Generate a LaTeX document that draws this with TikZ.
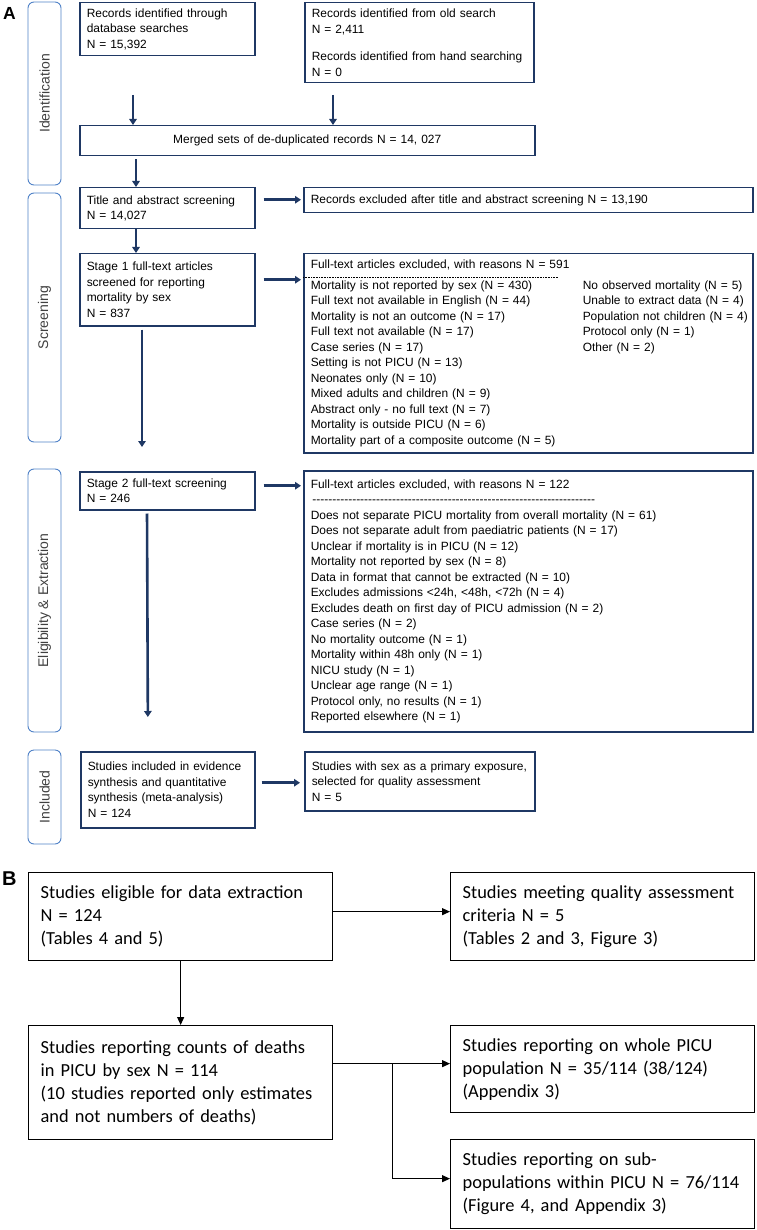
\documentclass[tikz,border=0pt]{standalone}
\usepackage{fontspec}
\setmainfont{Liberation Sans}
\newfontfamily\calibri{Carlito}
\usetikzlibrary{arrows.meta,positioning}
\definecolor{navy}{RGB}{31,56,100}
\definecolor{stageblue}{RGB}{79,129,199}
\definecolor{stagetext}{RGB}{64,64,64}
\tikzset{
  flow box/.style={
    draw=navy, line width=1.5pt, rectangle,
    anchor=north west, align=left,
    inner xsep=7pt, inner ysep=0pt,
    font=\fontsize{11.95}{15.5}\selectfont,
  },
  stage label/.style={
    draw=stageblue, line width=0.9pt, rounded corners=6pt,
    rotate=90, minimum height=33pt, inner sep=0pt,
    text=stagetext, font=\fontsize{14}{16}\selectfont,
  },
  fat arrow/.style={navy, line width=2.6pt, -{Triangle[width=7.5pt,length=6pt]}},
  b box/.style={
    draw, line width=1.3pt, rectangle,
    anchor=north west, align=left,
    inner xsep=12pt, inner ysep=0pt,
    font=\calibri\fontsize{18.4}{23}\selectfont,
  },
  thin arrow/.style={line width=1.1pt, -{Triangle[width=7pt,length=8pt]}},
  panel tag/.style={inner sep=0pt, anchor=north west},
}

\begin{document}
\begin{tikzpicture}[x=1pt,y=-1pt]
  \useasboundingbox (0,0) rectangle (756,1230);

  % panel A
  \node [panel tag, font=\bfseries\fontsize{17.5}{17.5}\selectfont] (tagA) at (3,7) {A};

  \node [stage label, minimum width=183pt] (ident) at (44.5,93.5) {Identification};
  \node [stage label, minimum width=249pt] (screen) at (44.5,317.5) {Screening};
  \node [stage label, minimum width=263pt] (elig) at (44.5,600.5) {Eligibility \& Extraction};
  \node [stage label, minimum width=94pt] (inclab) at (44.5,797) {Included};

  \node [flow box, minimum width=175pt, minimum height=53pt, text width=161pt] (recdb) at (79,2)
    {Records identified through\\database searches\\N = 15,392};
  \node [flow box, minimum width=229pt, minimum height=80pt, text width=215pt] (recold) at (304,2)
    {Records identified from old search\\N = 2,411\\[12pt]Records identified from hand searching\\N = 0};
  \node [flow box, minimum width=455pt, minimum height=30pt, text width=441pt, align=center] (merged) at (79,125)
    {Merged sets of de-duplicated records N = 14, 027};
  \node [flow box, minimum width=175pt, minimum height=41pt, text width=161pt] (title) at (79,187)
    {Title and abstract screening\\N = 14,027};
  \node [flow box, minimum width=449pt, minimum height=25pt, text width=435pt] (excltitle) at (303,187)
    {Records excluded after title and abstract screening N = 13,190};
  \node [flow box, minimum width=175pt, minimum height=72pt, text width=161pt] (stage1) at (79,253)
    {Stage 1 full-text articles\\screened for reporting\\mortality by sex\\N = 837};
  \node [flow box, minimum width=449pt, minimum height=199pt, text width=435pt] (ftx591) at (303,253)
    {\begin{tabular}{@{}p{272pt}@{}l@{}}
      \multicolumn{2}{@{}l@{}}{Full-text articles excluded, with reasons N = 591}\\[5pt]
      Mortality is not reported by sex (N = 430) & No observed mortality (N = 5)\\
      Full text not available in English (N = 44) & Unable to extract data (N = 4)\\
      Mortality is not an outcome (N = 17) & Population not children (N = 4)\\
      Full text not available (N = 17) & Protocol only (N = 1)\\
      Case series (N = 17) & Other (N = 2)\\
      Setting is not PICU (N = 13) & \\
      Neonates only (N = 10) & \\
      Mixed adults and children (N = 9) & \\
      Abstract only - no full text (N = 7) & \\
      Mortality is outside PICU (N = 6) & \\
      Mortality part of a composite outcome (N = 5) &
    \end{tabular}};
  \node [flow box, minimum width=175pt, minimum height=38pt, text width=161pt] (stage2) at (79,471)
    {Stage 2 full-text screening\\N = 246};
  \node [flow box, minimum width=449pt, minimum height=261pt, text width=435pt] (ftx122) at (303,470)
    {Full-text articles excluded, with reasons N = 122\\
     \makebox[286pt][l]{\cleaders\hbox{-}\hfill}\\
     Does not separate PICU mortality from overall mortality (N = 61)\\
     Does not separate adult from paediatric patients (N = 17)\\
     Unclear if mortality is in PICU (N = 12)\\
     Mortality not reported by sex (N = 8)\\
     Data in format that cannot be extracted (N = 10)\\
     Excludes admissions <24h, <48h, <72h (N = 4)\\
     Excludes death on first day of PICU admission (N = 2)\\
     Case series (N = 2)\\
     No mortality outcome (N = 1)\\
     Mortality within 48h only (N = 1)\\
     NICU study (N = 1)\\
     Unclear age range (N = 1)\\
     Protocol only, no results (N = 1)\\
     Reported elsewhere (N = 1)};
  \node [flow box, minimum width=174pt, minimum height=76pt, text width=160pt] (incl) at (80,751)
    {Studies included in evidence\\synthesis and quantitative\\synthesis (meta-analysis)\\N = 124};
  \node [flow box, minimum width=230pt, minimum height=59pt, text width=216pt] (quality) at (304,751)
    {Studies with sex as a primary exposure,\\selected for quality assessment\\N = 5};

  \draw [line width=0.6pt, dash pattern=on 0.8pt off 0.8pt] ([yshift=-24pt]ftx591.north west) -- ++(255,0);

  \coordinate (dbdrop) at (133,95);
  \coordinate (olddrop) at (333,95);
  \draw [fat arrow] (dbdrop) -- (dbdrop |- merged.north);
  \draw [fat arrow] (olddrop) -- (olddrop |- merged.north);
  \draw [fat arrow, shorten <=3pt] ([xshift=57pt]merged.south west) -- ([xshift=57pt]title.north west);
  \draw [fat arrow, shorten <=8pt, shorten >=2pt] ([yshift=8.5pt]title.east) -- ([yshift=8.5pt]title.east -| excltitle.west);
  \draw [fat arrow] ([xshift=57pt]title.south west) -- ([xshift=57pt]stage1.north west);
  \draw [fat arrow, shorten <=8pt, shorten >=2pt] ([yshift=10pt]stage1.east) -- ([yshift=10pt]stage1.east -| ftx591.west);
  \draw [fat arrow, shorten <=3pt, shorten >=24pt] ([xshift=63pt]stage1.south west) -- ([xshift=63pt]stage2.north west);
  \draw [fat arrow, shorten <=8pt, shorten >=2pt] ([yshift=5pt]stage2.east) -- ([yshift=5pt]stage2.east -| ftx122.west);
  \draw [fat arrow, shorten <=3pt, shorten >=34pt] ([xshift=68pt]stage2.south west) -- ([xshift=68pt]incl.north west);
  \draw [fat arrow, shorten <=6pt, shorten >=4pt] ([yshift=7pt]incl.east) -- ([yshift=7pt]incl.east -| quality.west);

  % panel B
  \node [panel tag, font=\bfseries\fontsize{20}{20}\selectfont] (tagB) at (2,872) {B};

  \node [b box, minimum width=304pt, minimum height=88pt, text width=280pt] (eligible) at (28,872)
    {Studies eligible for data extraction\\N = 124\\(Tables 4 and 5)};
  \node [b box, minimum width=304pt, minimum height=88pt, text width=280pt] (meeting) at (450,872)
    {Studies meeting quality assessment\\criteria N = 5\\(Tables 2 and 3, Figure 3)};
  \node [b box, minimum width=304pt, minimum height=114pt, text width=280pt] (counts) at (28,1025)
    {Studies reporting counts of deaths\\in PICU by sex N = 114\\(10 studies reported only estimates\\and not numbers of deaths)};
  \node [b box, minimum width=304pt, minimum height=87pt, text width=280pt] (whole) at (450,1025)
    {Studies reporting on whole PICU\\population N = 35/114 (38/124)\\(Appendix 3)};
  \node [b box, minimum width=304pt, minimum height=89pt, text width=280pt] (subpop) at (450,1139)
    {Studies reporting on sub-\\populations within PICU N = 76/114\\(Figure 4, and Appendix 3)};

  \draw [thin arrow] ([yshift=5pt]eligible.east) -- ([yshift=5pt]eligible.east -| meeting.west);
  \draw [thin arrow] (eligible) -- (counts);
  \draw [thin arrow] ([yshift=19pt]counts.east) -- ([yshift=19pt]counts.east -| whole.west);
  \coordinate (fork) at ([xshift=59pt,yshift=19pt]counts.east);
  \draw [thin arrow] (fork) |- ([yshift=5.5pt]subpop.west);
\end{tikzpicture}
\end{document}
